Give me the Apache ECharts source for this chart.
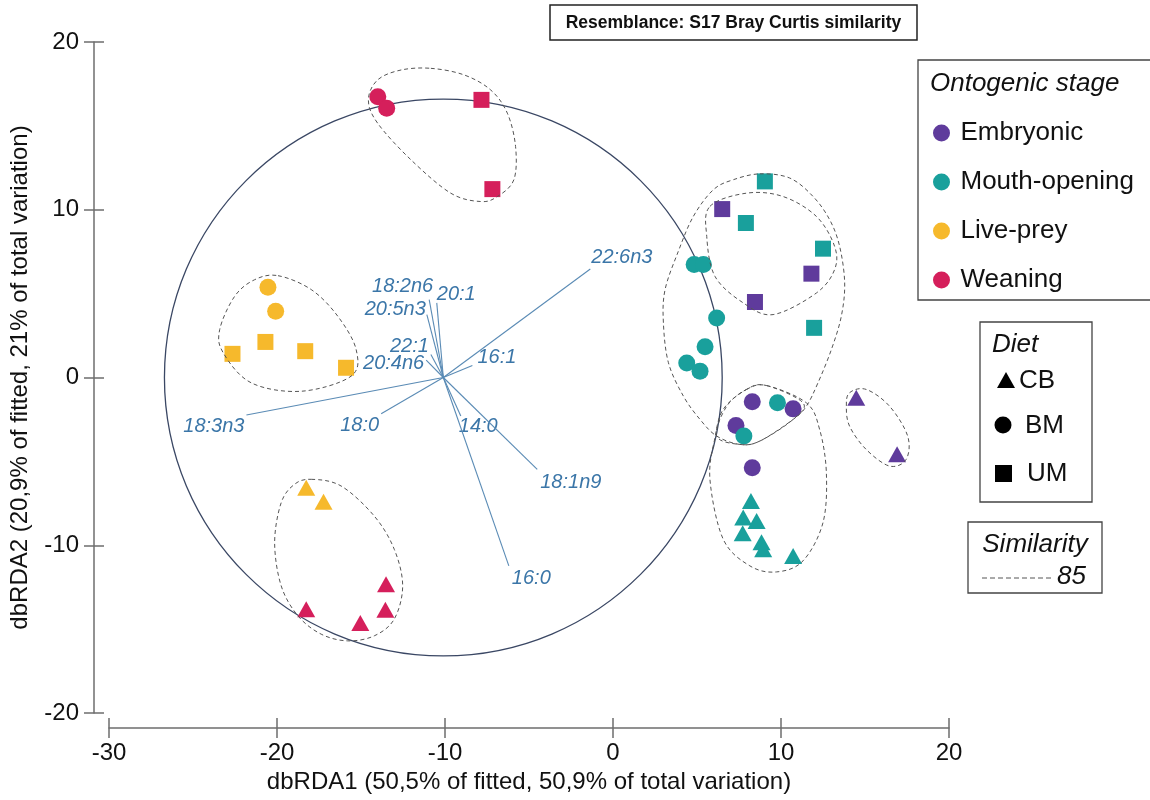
<!DOCTYPE html>
<html>
<head>
<meta charset="UTF-8">
<title>dbRDA</title>
<script type="text/javascript" src="https://cdn.jsdelivr.net/npm/echarts@6/dist/echarts.min.js"></script>
</head>
<body style="margin:0; background:#fff;">
<div id="container" style="width:1150px; height:800px;"></div>
<script type="text/javascript">
var dom = document.getElementById('container');
var myChart = echarts.init(dom);

// samples, [dbRDA1, dbRDA2], per stage and diet
var embryonicCB = [[14.48, -1.21], [16.91, -4.58]];
var embryonicBM = [[8.29, -1.45], [10.72, -1.87], [7.32, -2.86], [8.29, -5.38]];
var embryonicUM = [[6.5, 10.04], [11.81, 6.19], [8.45, 4.5]];

var mouthCB = [[8.21, -7.36], [7.75, -8.35], [8.55, -8.55], [7.72, -9.29], [8.84, -9.82], [8.94, -10.24], [10.72, -10.64]];
var mouthBM = [[4.83, 6.73], [5.38, 6.73], [6.17, 3.55], [5.48, 1.83], [4.39, 0.87], [5.18, 0.38], [9.79, -1.51], [7.79, -3.49]];
var mouthUM = [[9.04, 11.69], [7.91, 9.21], [12.5, 7.68], [11.97, 2.96]];

var preyCB = [[-18.26, -6.57], [-17.23, -7.4]];
var preyBM = [[-20.54, 5.38], [-20.08, 3.95]];
var preyUM = [[-22.65, 1.41], [-20.69, 2.12], [-18.32, 1.57], [-15.89, 0.58]];

var weaningCB = [[-18.26, -13.81], [-15.04, -14.64], [-13.51, -12.32], [-13.55, -13.85]];
var weaningBM = [[-14.0, 16.74], [-13.47, 16.05]];
var weaningUM = [[-7.83, 16.55], [-7.18, 11.23]];

var stages = ['Embryonic', 'Mouth-opening', 'Live-prey', 'Weaning'];
var stageData = [
  [embryonicCB, embryonicBM, embryonicUM],
  [mouthCB, mouthBM, mouthUM],
  [preyCB, preyBM, preyUM],
  [weaningCB, weaningBM, weaningUM]
];
var diets = ['CB', 'BM', 'UM'];

// fatty acid vectors
var vectorOrigin = [-10.1, 0];
var vectorNames = ['22:6n3', '18:2n6', '20:1', '20:5n3', '22:1', '20:4n6', '16:1', '18:3n3', '18:0', '14:0', '18:1n9', '16:0'];
var vectorX = [-1.35, -10.94, -10.49, -11.08, -10.84, -11.12, -8.37, -21.82, -13.8, -9.06, -4.51, -6.2];
var vectorY = [6.47, 4.64, 4.45, 3.75, 1.37, 1.03, 0.71, -2.24, -2.16, -2.3, -5.48, -11.23];
var circleRadius = 16.6;

// 85% similarity contours
var contours = [
  [[-10.84, 18.43], [-8.87, 18.04], [-7.28, 17.14], [-6.29, 15.76], [-5.8, 13.77], [-5.9, 11.79], [-6.88, 10.79], [-7.88, 10.49], [-9.66, 10.99], [-12.03, 12.98], [-14.01, 15.16], [-14.56, 16.55], [-14.01, 17.74], [-12.62, 18.33]],
  [[-19.94, 6.07], [-17.96, 5.24], [-16.38, 3.65], [-15.29, 1.67], [-15.59, 0.08], [-18.56, -0.82], [-21.53, -0.32], [-23.2, 1.47], [-23.41, 2.86], [-22.52, 4.84], [-21.33, 5.83]],
  [[-17.96, -6.07], [-16.18, -6.47], [-14.21, -8.26], [-13.02, -10.24], [-12.52, -12.42], [-13.02, -14.4], [-14.21, -15.4], [-15.79, -15.7], [-17.37, -15.3], [-18.75, -14.21], [-19.75, -12.42], [-20.14, -9.84], [-19.75, -7.46], [-18.96, -6.37]],
  [[8.74, 12.14], [10.52, 11.89], [11.91, 10.79], [12.9, 9.4], [13.49, 7.82], [13.79, 5.64], [13.59, 3.65], [13.0, 1.67], [12.2, -0.32], [11.51, -1.71], [10.72, -2.5], [8.74, -3.79], [7.55, -3.99], [6.17, -3.49], [5.18, -2.5], [4.19, -1.11], [3.3, 0.88], [3.0, 3.26], [3.1, 5.24], [3.88, 7.5], [4.78, 9.6], [5.97, 11.19], [7.16, 11.79]],
  [[5.77, 10.2], [7.95, 10.99], [10.12, 10.79], [12.11, 9.6], [13.19, 7.82], [13.19, 6.43], [12.11, 5.04], [9.53, 3.75], [7.75, 4.45], [6.07, 6.03], [5.58, 8.41]],
  [[7.95, -0.71], [9.14, -0.48], [11.31, -1.51], [10.72, -2.5], [8.74, -3.79], [7.55, -3.99], [6.17, -3.49], [6.77, -1.71]],
  [[9.14, -0.48], [11.51, -1.51], [12.3, -3.1], [12.7, -5.67], [12.5, -8.65], [11.31, -10.93], [9.73, -11.59], [8.15, -11.23], [6.56, -9.64], [5.77, -6.07], [6.07, -3.59], [6.56, -1.9], [7.95, -0.71]],
  [[14.08, -0.91], [15.07, -0.71], [16.46, -1.71], [17.54, -3.49], [17.45, -4.88], [16.46, -5.28], [15.07, -4.29], [14.08, -2.9], [13.89, -1.71]]
];

// styles
var FONT = '"Liberation Sans", Arial, sans-serif';
var stageColors = ['#5f3b9c', '#19a09c', '#f6b92c', '#d51f5b'];
var dietSymbols = { CB: 'triangle', BM: 'circle', UM: 'rect' };
var dietSizes = { CB: [18, 16], BM: 17, UM: 16 };
var vectorColor = '#5a8bb5';
var vectorTextColor = '#3b76a8';
// [align, dx, dy] of each vector label, relative to the arrow tip in pixels
var vectorLabelPlace = {
  '22:6n3': ['left', 1, -12], '18:2n6': ['right', 4, -13], '20:1': ['left', 0, -8],
  '20:5n3': ['right', -1, -5], '22:1': ['right', -2, -8], '20:4n6': ['right', -2, 3],
  '16:1': ['left', 5, -8], '18:3n3': ['right', -2, 11], '18:0': ['right', -2, 12],
  '14:0': ['left', -2, 10], '18:1n9': ['left', 3, 13], '16:0': ['left', 3, 13]
};
var axisGray = '#6e6e6e';

// closed Catmull-Rom spline through pixel points
function closedSpline(pts) {
  var n = pts.length;
  var d = 'M' + pts[0][0] + ',' + pts[0][1];
  for (var i = 0; i < n; i++) {
    var p0 = pts[(i - 1 + n) % n], p1 = pts[i], p2 = pts[(i + 1) % n], p3 = pts[(i + 2) % n];
    var c1x = p1[0] + (p2[0] - p0[0]) / 6, c1y = p1[1] + (p2[1] - p0[1]) / 6;
    var c2x = p2[0] - (p3[0] - p1[0]) / 6, c2y = p2[1] - (p3[1] - p1[1]) / 6;
    d += 'C' + c1x + ',' + c1y + ',' + c2x + ',' + c2y + ',' + p2[0] + ',' + p2[1];
  }
  return d + 'Z';
}

var series = [];

series.push({
  type: 'custom',
  silent: true,
  z: 1,
  data: [[vectorOrigin[0], vectorOrigin[1], circleRadius]],
  renderItem: function (params, api) {
    var c = api.coord([api.value(0), api.value(1)]);
    var s = api.size([api.value(2), api.value(2)]);
    return {
      type: 'ellipse',
      shape: { cx: c[0], cy: c[1], rx: s[0], ry: s[1] },
      style: { fill: 'none', stroke: '#3a4764', lineWidth: 1.3 }
    };
  }
});

series.push({
  type: 'custom',
  silent: true,
  z: 2,
  data: vectorNames.map(function (n, i) {
    return [vectorOrigin[0], vectorOrigin[1], vectorX[i], vectorY[i], n];
  }),
  renderItem: function (params, api) {
    var p0 = api.coord([api.value(0), api.value(1)]);
    var p1 = api.coord([api.value(2), api.value(3)]);
    var name = vectorNames[params.dataIndex];
    var pl = vectorLabelPlace[name];
    return {
      type: 'group',
      children: [
        {
          type: 'line',
          shape: { x1: p0[0], y1: p0[1], x2: p1[0], y2: p1[1] },
          style: { stroke: vectorColor, lineWidth: 1.1 }
        },
        {
          type: 'text',
          x: p1[0] + pl[1],
          y: p1[1] + pl[2],
          style: {
            text: name, fill: vectorTextColor, font: 'italic 20px ' + FONT,
            align: pl[0], verticalAlign: 'middle'
          }
        }
      ]
    };
  }
});

stages.forEach(function (stage, si) {
  var data = [];
  diets.forEach(function (d, di) {
    stageData[si][di].forEach(function (p) {
      data.push({ value: p, symbol: dietSymbols[d], symbolSize: dietSizes[d] });
    });
  });
  series.push({
    name: stage,
    type: 'scatter',
    z: 3,
    itemStyle: { color: stageColors[si], opacity: 1 },
    data: data
  });
});

series.push({
  type: 'custom',
  silent: true,
  z: 4,
  data: contours.map(function (c) { return c[0]; }),
  renderItem: function (params, api) {
    var pts = contours[params.dataIndex].map(function (p) { return api.coord(p); });
    return {
      type: 'path',
      shape: { pathData: closedSpline(pts) },
      style: { fill: 'none', stroke: '#555', lineWidth: 1, lineDash: [4, 3] }
    };
  }
});

var labelText = function (t, x, y, opt) {
  return {
    type: 'text', x: x, y: y,
    style: Object.assign({ text: t, fill: '#111', font: '26px ' + FONT, align: 'left', verticalAlign: 'middle' }, opt || {})
  };
};

var option = {
  animation: false,
  backgroundColor: '#fff',
  grid: { left: 105, right: 201, top: 42, bottom: 87 },
  xAxis: [
    {
      type: 'value', min: -30, max: 20, interval: 10, offset: 15, position: 'bottom',
      name: 'dbRDA1 (50,5% of fitted, 50,9% of total variation)',
      nameLocation: 'middle', nameGap: 42,
      nameTextStyle: { fontSize: 24, color: '#111', fontFamily: FONT },
      splitLine: { show: false },
      axisLine: { show: true, onZero: false, lineStyle: { color: axisGray, width: 1.5 } },
      axisTick: { show: true, length: 10, lineStyle: { color: axisGray, width: 1.5 } },
      axisLabel: { fontSize: 24, color: '#111', fontFamily: FONT, margin: 13 }
    },
    {
      type: 'value', min: -30, max: 20, interval: 10, offset: 15, position: 'bottom',
      splitLine: { show: false },
      axisLine: { show: false, onZero: false },
      axisTick: { show: true, inside: true, length: 10, lineStyle: { color: axisGray, width: 1.5 } },
      axisLabel: { show: false }
    }
  ],
  yAxis: [
    {
      type: 'value', min: -20, max: 20, interval: 10, offset: 15, position: 'left',
      name: 'dbRDA2 (20,9% of fitted, 21% of total variation)',
      nameLocation: 'middle', nameGap: 62, nameRotate: 90,
      nameTextStyle: { fontSize: 24, color: '#111', fontFamily: FONT },
      splitLine: { show: false },
      axisLine: { show: true, onZero: false, lineStyle: { color: axisGray, width: 1.5 } },
      axisTick: { show: true, length: 10, lineStyle: { color: axisGray, width: 1.5 } },
      axisLabel: { fontSize: 24, color: '#111', fontFamily: FONT, margin: 15 }
    },
    {
      type: 'value', min: -20, max: 20, interval: 10, offset: 15, position: 'left',
      splitLine: { show: false },
      axisLine: { show: false, onZero: false },
      axisTick: { show: true, inside: true, length: 10, lineStyle: { color: axisGray, width: 1.5 } },
      axisLabel: { show: false }
    }
  ],
  legend: {
    data: stages,
    orient: 'vertical',
    left: 928, top: 115,
    icon: 'circle',
    itemWidth: 28, itemHeight: 17, itemGap: 23,
    selectedMode: false,
    textStyle: { fontSize: 26, lineHeight: 26, color: '#111', fontFamily: FONT }
  },
  graphic: [
    { type: 'rect', shape: { x: 550, y: 5, width: 367, height: 35 }, style: { fill: '#fff', stroke: '#222', lineWidth: 1.5 } },
    labelText('Resemblance: S17 Bray Curtis similarity', 733.5, 23, { font: 'bold 17.5px ' + FONT, align: 'center' }),

    { type: 'rect', z: -1, shape: { x: 918, y: 60, width: 250, height: 240 }, style: { fill: '#fff', stroke: '#444', lineWidth: 1.3 } },
    labelText('Ontogenic stage', 930, 84, { font: 'italic 26px ' + FONT }),

    { type: 'rect', shape: { x: 980, y: 322, width: 112, height: 180 }, style: { fill: '#fff', stroke: '#444', lineWidth: 1.3 } },
    labelText('Diet', 992, 345, { font: 'italic 26px ' + FONT }),
    { type: 'polygon', shape: { points: [[997, 388], [1015, 388], [1006, 372]] }, style: { fill: '#000' } },
    labelText('CB', 1019, 381),
    { type: 'circle', shape: { cx: 1003, cy: 425, r: 8.5 }, style: { fill: '#000' } },
    labelText('BM', 1025, 426),
    { type: 'rect', shape: { x: 995, y: 465, width: 17, height: 17 }, style: { fill: '#000' } },
    labelText('UM', 1027, 474),

    { type: 'rect', shape: { x: 968, y: 522, width: 134, height: 71 }, style: { fill: '#fff', stroke: '#444', lineWidth: 1.3 } },
    labelText('Similarity', 1035, 545, { font: 'italic 26px ' + FONT, align: 'center' }),
    { type: 'line', shape: { x1: 982, y1: 578, x2: 1053, y2: 578 }, style: { stroke: '#555', lineWidth: 1, lineDash: [5, 3] } },
    labelText('85', 1057, 577, { font: 'italic 26px ' + FONT })
  ],
  series: series
};

myChart.setOption(option);
</script>
</body>
</html>
